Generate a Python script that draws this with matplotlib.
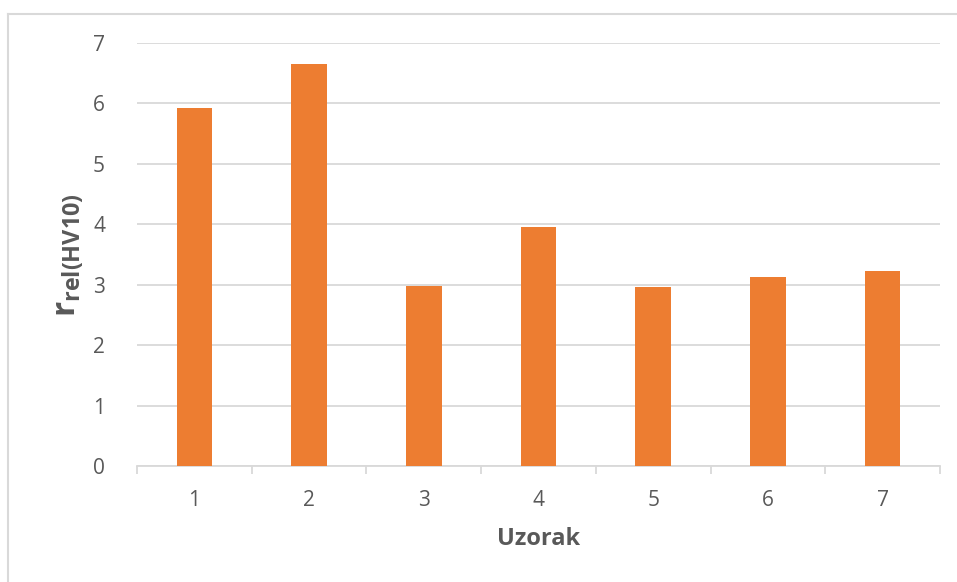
import numpy as np
import matplotlib.pyplot as plt
from matplotlib.lines import Line2D

# data
samples = ['1', '2', '3', '4', '5', '6', '7']
r_rel = [5.92, 6.65, 2.98, 3.95, 2.96, 3.12, 3.23]
y_ticks = [0, 1, 2, 3, 4, 5, 6, 7]

bar_color = '#ED7D31'
grid_color = '#D9D9D9'
text_color = '#595959'

plt.rcParams['font.family'] = ['Open Sans', 'DejaVu Sans']
plt.rcParams['mathtext.fontset'] = 'custom'
plt.rcParams['mathtext.bf'] = 'Open Sans:bold'
plt.rcParams['mathtext.rm'] = 'Open Sans'

fig = plt.figure(figsize=(9.57, 5.82), dpi=100)
ax = fig.add_axes([137 / 957, 1 - 466 / 582, (940 - 137) / 957, (466 - 43) / 582])

x = np.arange(1, len(samples) + 1)
ax.bar(x, r_rel, width=0.31, color=bar_color, zorder=3)

ax.set_xlim(0.5, len(samples) + 0.5)
ax.set_ylim(0, 7)
ax.set_yticks(y_ticks)
ax.set_xticks(x)
ax.set_xticklabels(samples)
ax.set_xticks(np.arange(0.5, len(samples) + 1), minor=True)

ax.grid(axis='y', color=grid_color, lw=1.3, zorder=0)
for s in ['top', 'right', 'left']:
    ax.spines[s].set_visible(False)
ax.spines['bottom'].set_color(grid_color)
ax.spines['bottom'].set_linewidth(1.3)

ax.tick_params(axis='y', length=0, pad=23, labelsize=15, labelcolor=text_color)
ax.tick_params(axis='x', which='major', length=0, pad=17, labelsize=15, labelcolor=text_color)
ax.tick_params(axis='x', which='minor', length=6, width=1.3, color=grid_color)

ax.set_xlabel('Uzorak', fontsize=17, fontweight='bold', color=text_color, labelpad=12)
fig.text(70 / 957, 1 - 255 / 582, r'$\mathbf{r}_{\mathbf{rel(HV10)}}$', rotation=90,
         fontsize=24, color=text_color, ha='center', va='center')

# chart frame (left and top edges visible)
fig.add_artist(Line2D([8 / 957, 8 / 957], [0, 1 - 14 / 582], transform=fig.transFigure,
                      color=grid_color, lw=1.5))
fig.add_artist(Line2D([8 / 957, 1], [1 - 14 / 582, 1 - 14 / 582], transform=fig.transFigure,
                      color=grid_color, lw=1.5))

fig.savefig('out.png', dpi=100, facecolor='white')
